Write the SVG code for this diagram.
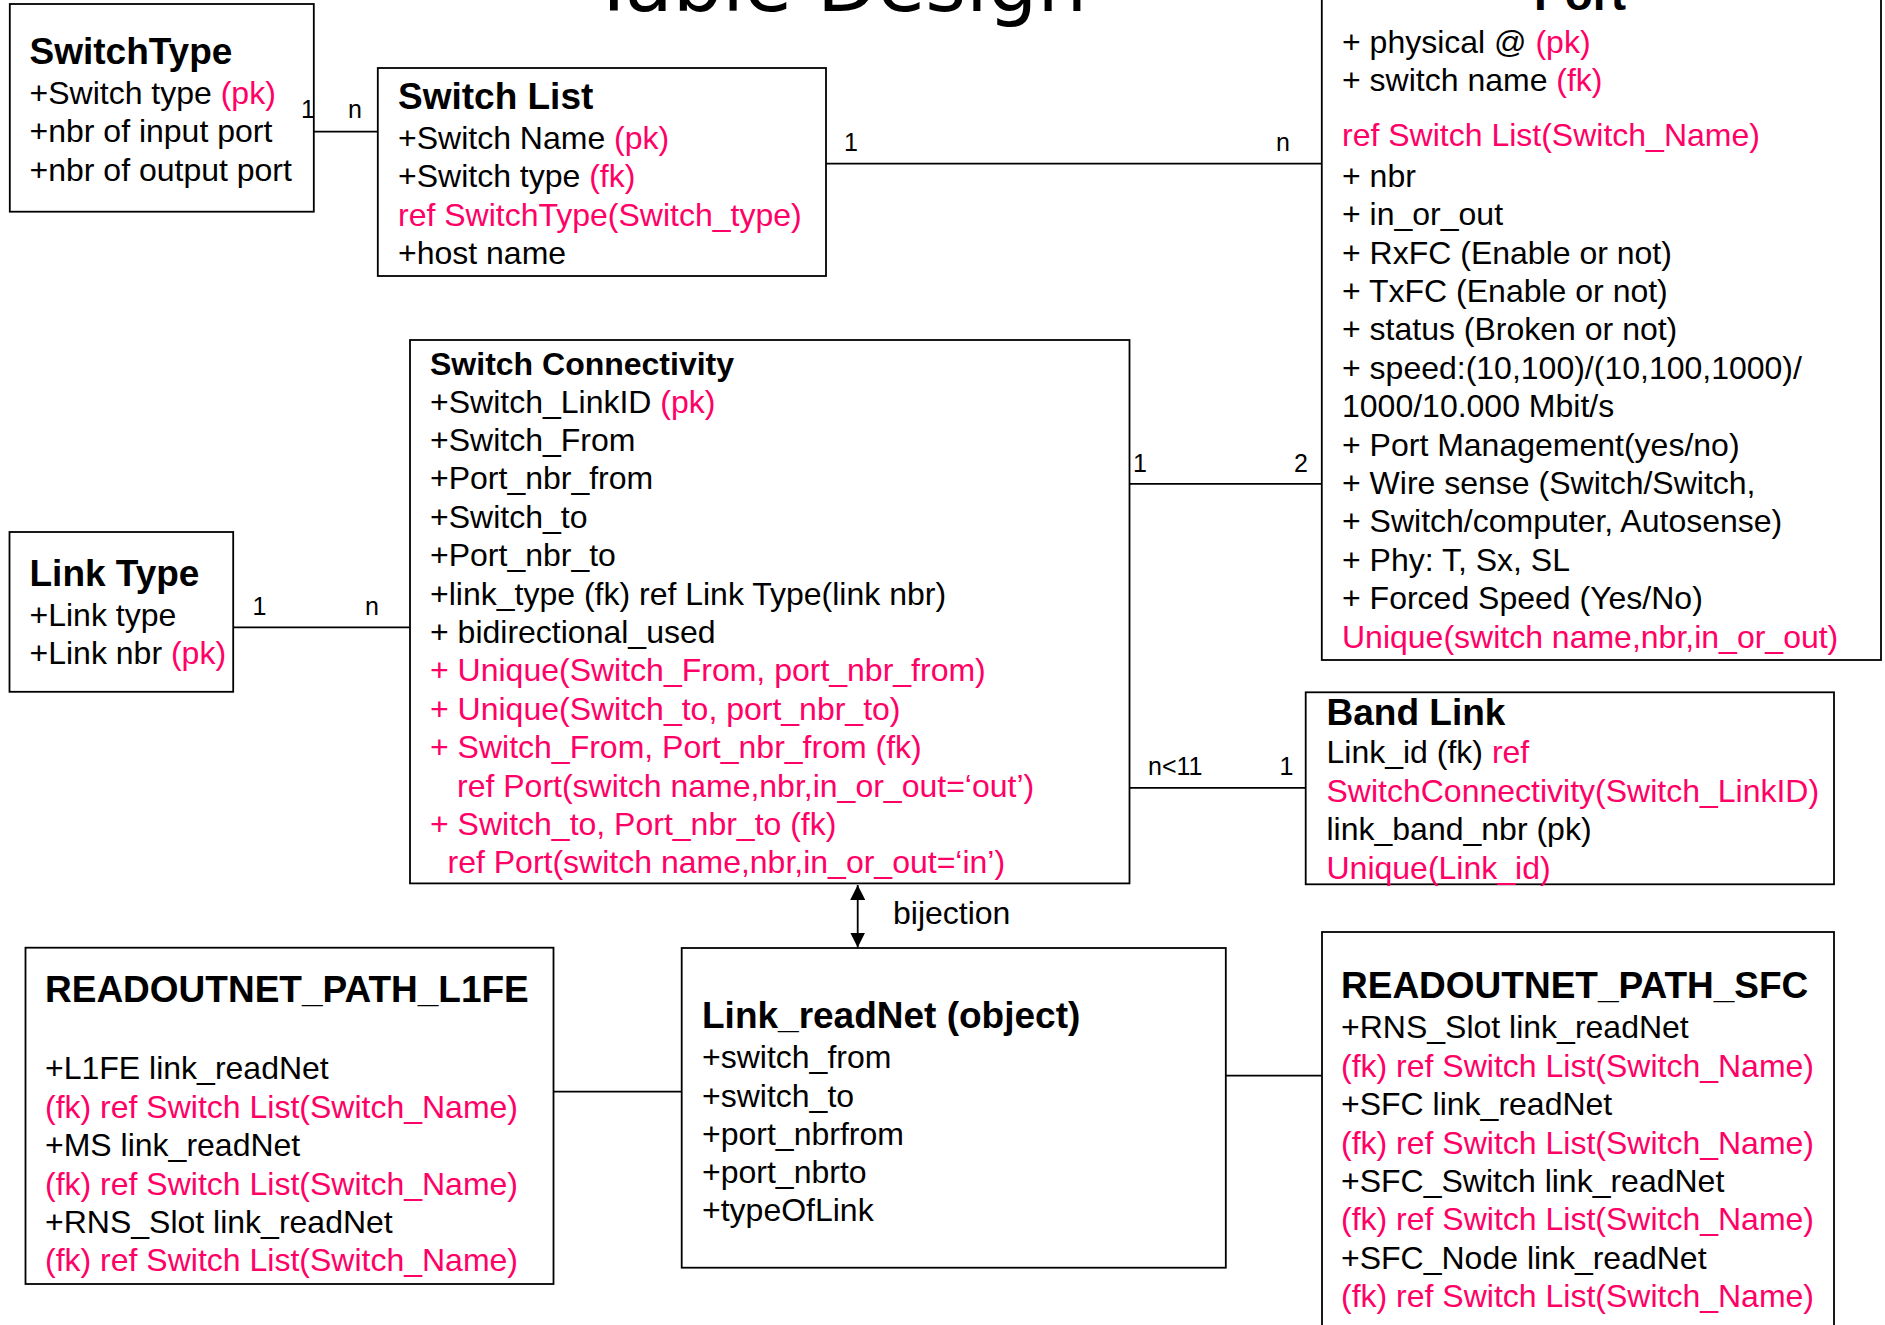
<svg xmlns="http://www.w3.org/2000/svg" width="1885" height="1325" viewBox="0 0 1885 1325">
<style>
.box{fill:#fff;stroke:#000;stroke-width:1.8}
text{font-family:"Liberation Sans",Arial,sans-serif;font-size:32px;fill:#000}
.h{font-weight:bold;font-size:37px}
.p{fill:#ff0066}
.lbl{font-size:25px}
.big{font-family:"Comic Sans MS","DejaVu Sans",sans-serif;font-size:78px}
#connectors line{stroke:#000;stroke-width:1.8;fill:none}
</style>
<defs>
<marker id="arr" viewBox="0 0 10 10" refX="10" refY="5" markerUnits="userSpaceOnUse" markerWidth="15" markerHeight="15" orient="auto-start-reverse">
<path d="M0,0 L10,5 L0,10 z" fill="#000"/>
</marker>
</defs>
<rect x="0" y="0" width="1885" height="1325" fill="#fff"/>

<text id="title" class="big" x="590" y="11" textLength="497" lengthAdjust="spacingAndGlyphs">Table Design</text>

<g id="SwitchType">
<rect class="box" x="9.8" y="4" width="304" height="207.7"/>
<text class="h" x="29.5" y="64">SwitchType</text>
<text x="29.5" y="104">+Switch type <tspan class="p">(pk)</tspan></text>
<text x="29.5" y="142.4">+nbr of input port</text>
<text x="29.5" y="180.8">+nbr of output port</text>
</g>

<g id="SwitchList">
<rect class="box" x="377.8" y="68" width="448.2" height="208"/>
<text class="h" x="398" y="109">Switch List</text>
<text x="398" y="148.8">+Switch Name <tspan class="p">(pk)</tspan></text>
<text x="398" y="187.2">+Switch type <tspan class="p">(fk)</tspan></text>
<text class="p" x="398" y="225.6">ref SwitchType(Switch_type)</text>
<text x="398" y="264">+host name</text>
</g>

<g id="Port">
<rect class="box" x="1321.8" y="-10" width="559.2" height="670"/>
<text class="h" x="1534" y="10" style="font-size:46px">Port</text>
<text x="1342" y="53.3">+ physical @ <tspan class="p">(pk)</tspan></text>
<text x="1342" y="91.3">+ switch name <tspan class="p">(fk)</tspan></text>
<text class="p" x="1342" y="145.7">ref Switch List(Switch_Name)</text>
<text x="1342" y="186.7">+ nbr</text>
<text x="1342" y="225.1">+ in_or_out</text>
<text x="1342" y="263.5">+ RxFC (Enable or not)</text>
<text x="1342" y="301.9">+ TxFC (Enable or not)</text>
<text x="1342" y="340.3">+ status (Broken or not)</text>
<text x="1342" y="378.7">+ speed:(10,100)/(10,100,1000)/</text>
<text x="1342" y="417.1">1000/10.000 Mbit/s</text>
<text x="1342" y="455.5">+ Port Management(yes/no)</text>
<text x="1342" y="493.9">+ Wire sense (Switch/Switch,</text>
<text x="1342" y="532.3">+ Switch/computer, Autosense)</text>
<text x="1342" y="570.7">+ Phy: T, Sx, SL</text>
<text x="1342" y="609.1">+ Forced Speed (Yes/No)</text>
<text class="p" x="1342" y="647.5">Unique(switch name,nbr,in_or_out)</text>
</g>

<g id="SwitchConnectivity">
<rect class="box" x="410" y="340" width="719.5" height="543.4"/>
<text class="h" x="430" y="374.7" style="font-size:32px">Switch Connectivity</text>
<text x="430" y="412.5">+Switch_LinkID <tspan class="p">(pk)</tspan></text>
<text x="430" y="450.9">+Switch_From</text>
<text x="430" y="489.3">+Port_nbr_from</text>
<text x="430" y="527.7">+Switch_to</text>
<text x="430" y="566.1">+Port_nbr_to</text>
<text x="430" y="604.5">+link_type (fk) ref Link Type(link nbr)</text>
<text x="430" y="642.9">+ bidirectional_used</text>
<text class="p" x="430" y="681.3">+ Unique(Switch_From, port_nbr_from)</text>
<text class="p" x="430" y="719.7">+ Unique(Switch_to, port_nbr_to)</text>
<text class="p" x="430" y="758.1">+ Switch_From, Port_nbr_from (fk)</text>
<text class="p" x="457" y="796.5">ref Port(switch name,nbr,in_or_out=‘out’)</text>
<text class="p" x="430" y="834.9">+ Switch_to, Port_nbr_to (fk)</text>
<text class="p" x="447.5" y="873.3">ref Port(switch name,nbr,in_or_out=‘in’)</text>
</g>

<g id="LinkType">
<rect class="box" x="9.5" y="532" width="223.7" height="159.8"/>
<text class="h" x="29.5" y="585.6">Link Type</text>
<text x="29.5" y="625.5">+Link type</text>
<text x="29.5" y="664">+Link nbr <tspan class="p">(pk)</tspan></text>
</g>

<g id="BandLink">
<rect class="box" x="1305.7" y="692.3" width="528.3" height="192"/>
<text class="h" x="1326.5" y="725">Band Link</text>
<text x="1326.5" y="763.4">Link_id (fk) <tspan class="p">ref</tspan></text>
<text class="p" x="1326.5" y="801.8">SwitchConnectivity(Switch_LinkID)</text>
<text x="1326.5" y="840.2">link_band_nbr (pk)</text>
<text class="p" x="1326.5" y="878.6">Unique(Link_id)</text>
</g>

<g id="ReadoutL1FE">
<rect class="box" x="25.5" y="947.7" width="528" height="336.3"/>
<text class="h" x="45" y="1001.7">READOUTNET_PATH_L1FE</text>
<text x="45" y="1079.3">+L1FE link_readNet</text>
<text class="p" x="45" y="1117.7">(fk) ref Switch List(Switch_Name)</text>
<text x="45" y="1156.1">+MS link_readNet</text>
<text class="p" x="45" y="1194.5">(fk) ref Switch List(Switch_Name)</text>
<text x="45" y="1232.9">+RNS_Slot link_readNet</text>
<text class="p" x="45" y="1271.3">(fk) ref Switch List(Switch_Name)</text>
</g>

<g id="LinkReadNet">
<rect class="box" x="681.7" y="948" width="544.1" height="319.7"/>
<text class="h" x="702" y="1028.3">Link_readNet (object)</text>
<text x="702" y="1068.3">+switch_from</text>
<text x="702" y="1106.5">+switch_to</text>
<text x="702" y="1144.5">+port_nbrfrom</text>
<text x="702" y="1182.5">+port_nbrto</text>
<text x="702" y="1220.5">+typeOfLink</text>
</g>

<g id="ReadoutSFC">
<rect class="box" x="1322" y="932" width="512" height="420"/>
<text class="h" x="1341" y="998.3">READOUTNET_PATH_SFC</text>
<text x="1341" y="1038.3">+RNS_Slot link_readNet</text>
<text class="p" x="1341" y="1076.7">(fk) ref Switch List(Switch_Name)</text>
<text x="1341" y="1115.1">+SFC link_readNet</text>
<text class="p" x="1341" y="1153.5">(fk) ref Switch List(Switch_Name)</text>
<text x="1341" y="1191.9">+SFC_Switch link_readNet</text>
<text class="p" x="1341" y="1230.3">(fk) ref Switch List(Switch_Name)</text>
<text x="1341" y="1268.7">+SFC_Node link_readNet</text>
<text class="p" x="1341" y="1307.1">(fk) ref Switch List(Switch_Name)</text>
</g>

<g id="connectors">
<line x1="314" y1="131.7" x2="378" y2="131.7"/>
<line x1="826" y1="163.7" x2="1322" y2="163.7"/>
<line x1="233" y1="627.4" x2="410" y2="627.4"/>
<line x1="1130" y1="483.8" x2="1322" y2="483.8"/>
<line x1="1130" y1="787.8" x2="1306" y2="787.8"/>
<line x1="553.6" y1="1091.7" x2="681.7" y2="1091.7"/>
<line x1="1226" y1="1075.7" x2="1322" y2="1075.7"/>
<line x1="857.7" y1="885" x2="857.7" y2="947.5" marker-start="url(#arr)" marker-end="url(#arr)"/>
<text x="893" y="924">bijection</text>
<text class="lbl" x="301" y="118">1</text>
<text class="lbl" x="348" y="118">n</text>
<text class="lbl" x="844" y="151">1</text>
<text class="lbl" x="1276" y="151">n</text>
<text class="lbl" x="252.5" y="615">1</text>
<text class="lbl" x="365" y="615">n</text>
<text class="lbl" x="1133" y="471.7">1</text>
<text class="lbl" x="1308" y="471.7" text-anchor="end">2</text>
<text class="lbl" x="1148" y="775">n&lt;11</text>
<text class="lbl" x="1293.5" y="775" text-anchor="end">1</text>
</g>
</svg>
